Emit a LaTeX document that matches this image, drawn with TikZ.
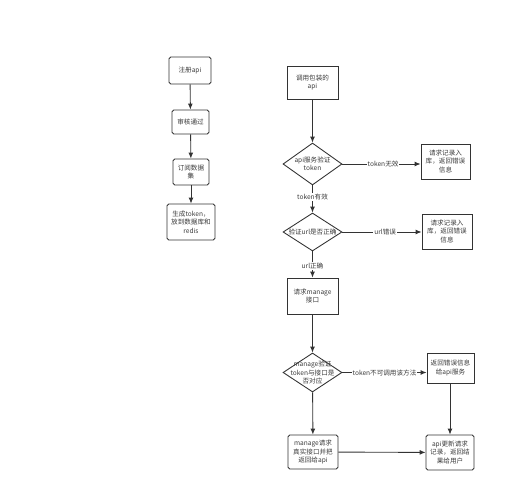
\documentclass[tikz,border=0pt]{standalone}
\usepackage{fontspec}
\setmainfont{Noto Sans CJK SC}
\usetikzlibrary{arrows.meta,shapes.geometric}
\definecolor{linegray}{HTML}{333333}
\definecolor{textgray}{HTML}{3A3A3A}
\tikzset{
    box/.style={
        draw=linegray,
        line width=0.5pt,
        align=center,
        inner sep=0pt,
        text=textgray,
        font=\fontsize{3.75}{4.8}\selectfont
    },
    rbox/.style={
        box,
        rounded corners=1pt
    },
    decision/.style={
        draw=linegray,
        line width=0.5pt,
        diamond,
        inner sep=0pt,
        minimum width=1.18cm,
        minimum height=0.8cm
    },
    dtext/.style={
        align=center,
        inner sep=0pt,
        text=textgray,
        font=\fontsize{3.75}{4.8}\selectfont
    },
    flow/.style={
        draw=linegray,
        line width=0.5pt,
        -{Latex[length=3.4pt,width=2.8pt]}
    },
    elabel/.style={
        fill=white,
        inner sep=0.5pt,
        text=textgray,
        font=\fontsize{3.75}{4.8}\selectfont
    }
}

\begin{document}
\begin{tikzpicture}[x=0.02cm,y=-0.02cm]
    \useasboundingbox (0,0) rectangle (508,500);

    % left column
    \node[rbox, minimum width=0.84cm, minimum height=0.54cm] (reg) at (190,70.5) {注册api};
    \node[rbox, minimum width=0.74cm, minimum height=0.48cm] (audit) at (190.5,122) {审核通过};
    \node[rbox, minimum width=0.72cm, minimum height=0.52cm] (subscribe) at (191,172) {订阅数据\\集};
    \node[rbox, minimum width=0.96cm, minimum height=0.72cm] (gen) at (191,222) {生成token，\\放到数据库和\\redis};

    \draw[flow] (reg) -- (audit);
    \draw[flow] (audit) -- (subscribe);
    \draw[flow] (subscribe) -- (gen);

    % right column
    \node[box, minimum width=1.02cm, minimum height=0.66cm] (call) at (312.5,82.5) {调用包装的\\api};
    \node[decision, minimum height=0.84cm, label={[dtext]center:api服务验证\\token}] (dia1) at (312.5,164) {};
    \node[box, minimum width=0.98cm, minimum height=0.70cm] (rec1) at (445.5,161.5) {请求记录入\\库，返回错误\\信息};
    \node[decision, minimum height=0.76cm, label={[dtext]center:验证url是否正确}] (dia2) at (312.5,232) {};
    \node[box, minimum width=1.00cm, minimum height=0.70cm] (rec2) at (447,231.5) {请求记录入\\库，返回错误\\信息};
    \node[box, minimum width=1.02cm, minimum height=0.72cm] (manage) at (312.5,296) {请求manage\\接口};
    \node[decision, minimum height=0.78cm, label={[dtext]center:manage验证\\token与接口是\\否对应}] (dia3) at (312.5,372.5) {};
    \node[box, minimum width=0.94cm, minimum height=0.60cm] (back) at (450.5,368) {返回错误信息\\给api服务};
    \node[rbox, minimum width=1.00cm, minimum height=0.68cm] (real) at (313,452) {manage请求\\真实接口并把\\返回给api};
    \node[rbox, minimum width=0.96cm, minimum height=0.70cm] (update) at (450,452.5) {api更新请求\\记录，返回结\\果给用户};

    \draw[flow] (call) -- (dia1);
    \draw[flow] (dia1.east) -- node[elabel, pos=0.52] {token无效} (rec1.west |- dia1.east);
    \draw[flow] (dia1) -- node[elabel, pos=0.43] {token有效} (dia2);
    \draw[flow] (dia2.east) -- node[elabel, pos=0.54] {url错误} (rec2.west |- dia2.east);
    \draw[flow] (dia2) -- node[elabel, pos=0.55] {url正确} (manage);
    \draw[flow] (manage) -- (dia3);
    \draw[flow] (dia3.east) -- node[elabel, pos=0.5] {token不可调用该方法} (back.west |- dia3.east);
    \draw[flow] (dia3) -- (real);
    \draw[flow] (real) -- (update);
    \draw[flow] (back.south) -- ++(0,27) -| (update.north);
\end{tikzpicture}
\end{document}
